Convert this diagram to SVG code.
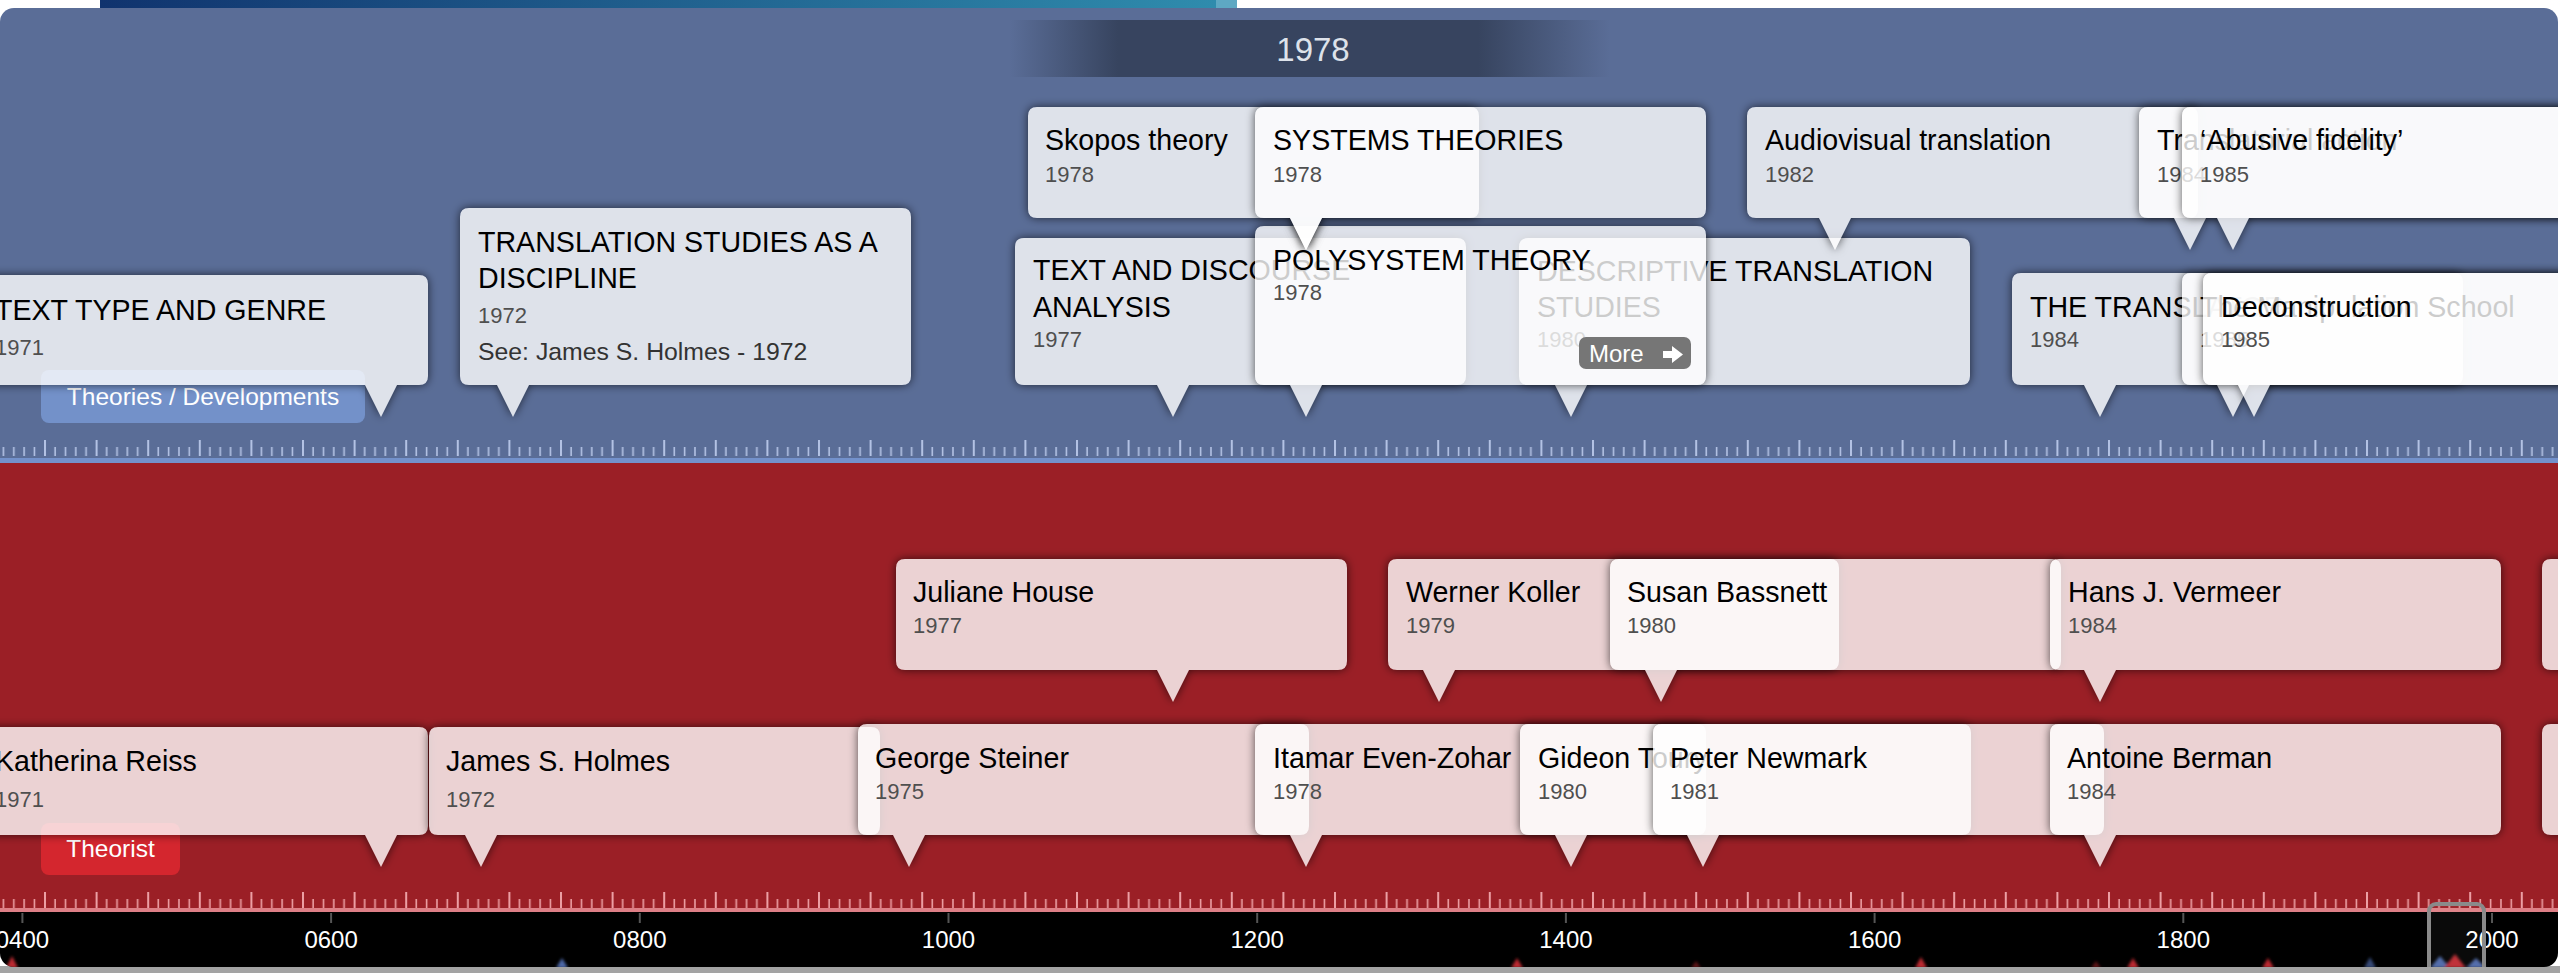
<svg xmlns="http://www.w3.org/2000/svg" width="2560" height="973" viewBox="0 0 2560 973">
<defs>
<style>
.sh{fill:#000;filter:url(#fsh)}
.cb{fill:#fff;fill-opacity:0.8}
.tt{font-family:"Liberation Sans",Arial,sans-serif;font-size:28.6px;fill:#000}
.yr{font-family:"Liberation Sans",Arial,sans-serif;font-size:22px;fill:#4f4f4f}
.sub{font-family:"Liberation Sans",Arial,sans-serif;font-size:24.8px;fill:#333}
.lbl{font-family:"Liberation Sans",Arial,sans-serif;font-size:24.5px;fill:#fff;text-anchor:middle}
.ax{font-family:"Liberation Sans",Arial,sans-serif;font-size:24px;fill:#fff;text-anchor:middle}
.axt{stroke:#555;stroke-width:2}
.mr{fill:#e0303a}
.mb{fill:#5c7cc8}
</style>
<filter id="fsh" x="-10%" y="-40%" width="120%" height="180%">
<feGaussianBlur in="SourceAlpha" stdDeviation="5" result="b"/>
<feComposite in="b" in2="SourceAlpha" operator="out" result="o"/>
<feFlood flood-color="#000" flood-opacity="0.65"/>
<feComposite in2="o" operator="in"/>
</filter>
<filter id="fbl" x="-50%" y="-50%" width="200%" height="200%">
<feGaussianBlur stdDeviation="1.6"/>
</filter>
<clipPath id="panel"><rect x="0" y="8" width="2558" height="959" rx="14"/></clipPath>
<linearGradient id="topbar" gradientUnits="userSpaceOnUse" x1="100" y1="0" x2="1216" y2="0">
<stop offset="0" stop-color="#10336e"/>
<stop offset="1" stop-color="#2f8cad"/>
</linearGradient>
<linearGradient id="hdr" gradientUnits="userSpaceOnUse" x1="1010" y1="0" x2="1610" y2="0">
<stop offset="0" stop-color="#37445f" stop-opacity="0"/>
<stop offset="0.18" stop-color="#37445f"/>
<stop offset="0.78" stop-color="#37445f"/>
<stop offset="1" stop-color="#37445f" stop-opacity="0"/>
</linearGradient>
<pattern id="tkB" patternUnits="userSpaceOnUse" x="44" y="440" width="51.6" height="16">
<rect x="0" y="0" width="2" height="16" fill="#b3c2e4"/>
<rect x="10.32" y="7" width="1.6" height="9" fill="#b3c2e4"/>
<rect x="20.64" y="7" width="1.6" height="9" fill="#b3c2e4"/>
<rect x="30.96" y="7" width="1.6" height="9" fill="#b3c2e4"/>
<rect x="41.28" y="7" width="1.6" height="9" fill="#b3c2e4"/>
</pattern>
<pattern id="tkR" patternUnits="userSpaceOnUse" x="44" y="892" width="51.6" height="16">
<rect x="0" y="0" width="2" height="16" fill="#ec9fa4"/>
<rect x="10.32" y="7" width="1.6" height="9" fill="#ec9fa4"/>
<rect x="20.64" y="7" width="1.6" height="9" fill="#ec9fa4"/>
<rect x="30.96" y="7" width="1.6" height="9" fill="#ec9fa4"/>
<rect x="41.28" y="7" width="1.6" height="9" fill="#ec9fa4"/>
</pattern>
<!-- card shapes -->
<path id="p-skopos" d="M1037,107 H1470 Q1479,107 1479,116 V209 Q1479,218 1470,218 H1322 L1306,250 L1290,218 H1037 Q1028,218 1028,209 V116 Q1028,107 1037,107 Z"/>
<path id="p-systems" d="M1264,107 H1697 Q1706,107 1706,116 V209 Q1706,218 1697,218 H1322 L1306,250 L1290,218 H1264 Q1255,218 1255,209 V116 Q1255,107 1264,107 Z"/>
<path id="p-audio" d="M1756,107 H2189 Q2198,107 2198,116 V209 Q2198,218 2189,218 H1851 L1835,250 L1819,218 H1756 Q1747,218 1747,209 V116 Q1747,107 1756,107 Z"/>
<path id="p-tra" d="M2148,107 H2581 Q2590,107 2590,116 V209 Q2590,218 2581,218 H2206 L2190,250 L2174,218 H2148 Q2139,218 2139,209 V116 Q2139,107 2148,107 Z"/>
<path id="p-abusive" d="M2191,107 H2624 Q2633,107 2633,116 V209 Q2633,218 2624,218 H2249 L2233,250 L2217,218 H2191 Q2182,218 2182,209 V116 Q2182,107 2191,107 Z"/>
<path id="p-texttype" d="M-14,275 H419 Q428,275 428,284 V376 Q428,385 419,385 H397 L381,417 L365,385 H-14 Q-23,385 -23,376 V284 Q-23,275 -14,275 Z"/>
<path id="p-tsdisc" d="M469,208 H902 Q911,208 911,217 V376 Q911,385 902,385 H529 L513,417 L497,385 H469 Q460,385 460,376 V217 Q460,208 469,208 Z"/>
<path id="p-tda" d="M1024,238 H1457 Q1466,238 1466,247 V376 Q1466,385 1457,385 H1189 L1173,417 L1157,385 H1024 Q1015,385 1015,376 V247 Q1015,238 1024,238 Z"/>
<path id="p-dts" d="M1528,238 H1961 Q1970,238 1970,247 V376 Q1970,385 1961,385 H1587 L1571,417 L1555,385 H1528 Q1519,385 1519,376 V247 Q1519,238 1528,238 Z"/>
<path id="p-poly" d="M1264,226 H1697 Q1706,226 1706,235 V376 Q1706,385 1697,385 H1322 L1306,417 L1290,385 H1264 Q1255,385 1255,376 V235 Q1255,226 1264,226 Z"/>
<path id="p-thetrans" d="M2021,273 H2454 Q2463,273 2463,282 V376 Q2463,385 2454,385 H2116 L2100,417 L2084,385 H2021 Q2012,385 2012,376 V282 Q2012,273 2021,273 Z"/>
<path id="p-manip" d="M2191,273 H2624 Q2633,273 2633,282 V376 Q2633,385 2624,385 H2249 L2233,417 L2217,385 H2191 Q2182,385 2182,376 V282 Q2182,273 2191,273 Z"/>
<path id="p-decon" d="M2212,273 H2645 Q2654,273 2654,282 V376 Q2654,385 2645,385 H2270 L2254,417 L2238,385 H2212 Q2203,385 2203,376 V282 Q2203,273 2212,273 Z"/>
<path id="p-house" d="M905,559 H1338 Q1347,559 1347,568 V661 Q1347,670 1338,670 H1189 L1173,702 L1157,670 H905 Q896,670 896,661 V568 Q896,559 905,559 Z"/>
<path id="p-koller" d="M1397,559 H1830 Q1839,559 1839,568 V661 Q1839,670 1830,670 H1455 L1439,702 L1423,670 H1397 Q1388,670 1388,661 V568 Q1388,559 1397,559 Z"/>
<path id="p-bassnett" d="M1619,559 H2052 Q2061,559 2061,568 V661 Q2061,670 2052,670 H1677 L1661,702 L1645,670 H1619 Q1610,670 1610,661 V568 Q1610,559 1619,559 Z"/>
<path id="p-vermeer" d="M2059,559 H2492 Q2501,559 2501,568 V661 Q2501,670 2492,670 H2116 L2100,702 L2084,670 H2059 Q2050,670 2050,661 V568 Q2050,559 2059,559 Z"/>
<path id="p-next1" d="M2551,559 H2984 Q2993,559 2993,568 V661 Q2993,670 2984,670 H2551 Q2542,670 2542,661 V568 Q2542,559 2551,559 Z"/>
<path id="p-reiss" d="M-14,727 H419 Q428,727 428,736 V826 Q428,835 419,835 H397 L381,867 L365,835 H-14 Q-23,835 -23,826 V736 Q-23,727 -14,727 Z"/>
<path id="p-holmes" d="M438,727 H871 Q880,727 880,736 V826 Q880,835 871,835 H497 L481,867 L465,835 H438 Q429,835 429,826 V736 Q429,727 438,727 Z"/>
<path id="p-steiner" d="M867,724 H1300 Q1309,724 1309,733 V826 Q1309,835 1300,835 H925 L909,867 L893,835 H867 Q858,835 858,826 V733 Q858,724 867,724 Z"/>
<path id="p-evenzohar" d="M1264,724 H1697 Q1706,724 1706,733 V826 Q1706,835 1697,835 H1322 L1306,867 L1290,835 H1264 Q1255,835 1255,826 V733 Q1255,724 1264,724 Z"/>
<path id="p-toury" d="M1529,724 H1962 Q1971,724 1971,733 V826 Q1971,835 1962,835 H1587 L1571,867 L1555,835 H1529 Q1520,835 1520,826 V733 Q1520,724 1529,724 Z"/>
<path id="p-newmark" d="M1662,724 H2095 Q2104,724 2104,733 V826 Q2104,835 2095,835 H1719 L1703,867 L1687,835 H1662 Q1653,835 1653,826 V733 Q1653,724 1662,724 Z"/>
<path id="p-berman" d="M2059,724 H2492 Q2501,724 2501,733 V826 Q2501,835 2492,835 H2116 L2100,867 L2084,835 H2059 Q2050,835 2050,826 V733 Q2050,724 2059,724 Z"/>
<path id="p-next2" d="M2551,724 H2984 Q2993,724 2993,733 V826 Q2993,835 2984,835 H2551 Q2542,835 2542,826 V733 Q2542,724 2551,724 Z"/>
</defs>

<rect x="0" y="0" width="2560" height="973" fill="#ffffff"/>
<rect x="0" y="966" width="2560" height="7" fill="#a3a3a3"/>
<rect x="100" y="0" width="1116" height="8" fill="url(#topbar)"/>
<rect x="1216" y="0" width="21" height="8" fill="#5ea8c3"/>

<g clip-path="url(#panel)">
<!-- bands -->
<g id="bands">
<rect x="0" y="8" width="2560" height="451" fill="#5a6d97"/>
<rect x="1010" y="20" width="600" height="57" fill="url(#hdr)"/>
<text x="1313" y="61" text-anchor="middle" font-family="'Liberation Sans',Arial,sans-serif" font-size="33" fill="#dde2ea">1978</text>
<rect x="0" y="440" width="2560" height="16" fill="url(#tkB)"/>
<rect x="0" y="458" width="2560" height="5" fill="#7391cb"/>
<rect x="0" y="463" width="2560" height="446" fill="#9b1f26"/>
<rect x="0" y="892" width="2560" height="16" fill="url(#tkR)"/>
<rect x="0" y="908" width="2560" height="4" fill="#de7f86"/>
<rect x="0" y="912" width="2560" height="56" fill="#000"/>
</g>

<g id="group-labels">
<rect x="41" y="370" width="324" height="53" rx="8" fill="#7391c9"/>
<text class="lbl" x="203" y="405">Theories / Developments</text>
<rect x="41" y="823" width="139" height="52" rx="8" fill="#d4262e"/>
<text class="lbl" x="110.5" y="857">Theorist</text>
</g>

<!-- Theories / Developments, lower row -->
<g id="node-text-type-genre">
<use href="#p-texttype" class="sh"/><use href="#p-texttype" class="cb"/>
<text class="tt" x="-5" y="320">TEXT TYPE AND GENRE</text>
<text class="yr" x="-5" y="355">1971</text>
</g>
<g id="node-ts-discipline">
<use href="#p-tsdisc" class="sh"/><use href="#p-tsdisc" class="cb"/>
<text class="tt" x="478" y="252">TRANSLATION STUDIES AS A</text>
<text class="tt" x="478" y="288">DISCIPLINE</text>
<text class="yr" x="478" y="323">1972</text>
<text class="sub" x="478" y="360">See: James S. Holmes - 1972</text>
</g>
<g id="node-text-discourse">
<use href="#p-tda" class="sh"/><use href="#p-tda" class="cb"/>
<text class="tt" x="1033" y="280">TEXT AND DISCOURSE</text>
<text class="tt" x="1033" y="317">ANALYSIS</text>
<text class="yr" x="1033" y="347">1977</text>
</g>
<g id="node-dts">
<use href="#p-dts" class="sh"/><use href="#p-dts" class="cb"/>
<text class="tt" x="1537" y="281">DESCRIPTIVE TRANSLATION</text>
<text class="tt" x="1537" y="317">STUDIES</text>
<text class="yr" x="1537" y="347">1980</text>
</g>
<g id="node-polysystem">
<use href="#p-poly" class="sh"/><use href="#p-poly" class="cb"/>
<text class="tt" x="1273" y="270">POLYSYSTEM THEORY</text>
<text class="yr" x="1273" y="300">1978</text>
<rect x="1579" y="337" width="112" height="32" rx="7" fill="#767676"/>
<text x="1589" y="362" font-family="'Liberation Sans',Arial,sans-serif" font-size="24" fill="#fff">More</text>
<polygon points="1663,351 1672,351 1672,346 1683,354.5 1672,363 1672,358 1663,358" fill="#fff"/>
</g>
<g id="node-the-trans">
<use href="#p-thetrans" class="sh"/><use href="#p-thetrans" class="cb"/>
<text class="tt" x="2030" y="317">THE TRANSLATOR</text>
<text class="yr" x="2030" y="347">1984</text>
</g>
<g id="node-manipulation">
<use href="#p-manip" class="sh"/><use href="#p-manip" class="cb"/>
<text class="tt" x="2200" y="317">The Manipulation School</text>
<text class="yr" x="2200" y="347">1985</text>
</g>
<g id="node-deconstruction">
<use href="#p-decon" class="sh"/><use href="#p-decon" class="cb"/>
<text class="tt" x="2221" y="317">Deconstruction</text>
<text class="yr" x="2221" y="347">1985</text>
</g>

<!-- Theories / Developments, upper row -->
<g id="node-skopos">
<use href="#p-skopos" class="sh"/><use href="#p-skopos" class="cb"/>
<text class="tt" x="1045" y="150">Skopos theory</text>
<text class="yr" x="1045" y="182">1978</text>
</g>
<g id="node-systems">
<use href="#p-systems" class="sh"/><use href="#p-systems" class="cb"/>
<text class="tt" x="1273" y="150">SYSTEMS THEORIES</text>
<text class="yr" x="1273" y="182">1978</text>
</g>
<g id="node-audiovisual">
<use href="#p-audio" class="sh"/><use href="#p-audio" class="cb"/>
<text class="tt" x="1765" y="150">Audiovisual translation</text>
<text class="yr" x="1765" y="182">1982</text>
</g>
<g id="node-translatorial">
<use href="#p-tra" class="sh"/><use href="#p-tra" class="cb"/>
<text class="tt" x="2157" y="150">Translatorial action</text>
<text class="yr" x="2157" y="182">1984</text>
</g>
<g id="node-abusive">
<use href="#p-abusive" class="sh"/><use href="#p-abusive" class="cb"/>
<text class="tt" x="2200" y="150">‘Abusive fidelity’</text>
<text class="yr" x="2200" y="182">1985</text>
</g>

<!-- Theorist, upper row -->
<g id="node-house">
<use href="#p-house" class="sh"/><use href="#p-house" class="cb"/>
<text class="tt" x="913" y="602">Juliane House</text>
<text class="yr" x="913" y="633">1977</text>
</g>
<g id="node-koller">
<use href="#p-koller" class="sh"/><use href="#p-koller" class="cb"/>
<text class="tt" x="1406" y="602">Werner Koller</text>
<text class="yr" x="1406" y="633">1979</text>
</g>
<g id="node-bassnett">
<use href="#p-bassnett" class="sh"/><use href="#p-bassnett" class="cb"/>
<text class="tt" x="1627" y="602">Susan Bassnett</text>
<text class="yr" x="1627" y="633">1980</text>
</g>
<g id="node-vermeer">
<use href="#p-vermeer" class="sh"/><use href="#p-vermeer" class="cb"/>
<text class="tt" x="2068" y="602">Hans J. Vermeer</text>
<text class="yr" x="2068" y="633">1984</text>
</g>
<g id="node-next-upper">
<use href="#p-next1" class="sh"/><use href="#p-next1" class="cb"/>
</g>

<!-- Theorist, lower row -->
<g id="node-reiss">
<use href="#p-reiss" class="sh"/><use href="#p-reiss" class="cb"/>
<text class="tt" x="-5" y="771">Katherina Reiss</text>
<text class="yr" x="-5" y="807">1971</text>
</g>
<g id="node-holmes">
<use href="#p-holmes" class="sh"/><use href="#p-holmes" class="cb"/>
<text class="tt" x="446" y="771">James S. Holmes</text>
<text class="yr" x="446" y="807">1972</text>
</g>
<g id="node-steiner">
<use href="#p-steiner" class="sh"/><use href="#p-steiner" class="cb"/>
<text class="tt" x="875" y="768">George Steiner</text>
<text class="yr" x="875" y="799">1975</text>
</g>
<g id="node-even-zohar">
<use href="#p-evenzohar" class="sh"/><use href="#p-evenzohar" class="cb"/>
<text class="tt" x="1273" y="768">Itamar Even-Zohar</text>
<text class="yr" x="1273" y="799">1978</text>
</g>
<g id="node-toury">
<use href="#p-toury" class="sh"/><use href="#p-toury" class="cb"/>
<text class="tt" x="1538" y="768">Gideon Toury</text>
<text class="yr" x="1538" y="799">1980</text>
</g>
<g id="node-newmark">
<use href="#p-newmark" class="sh"/><use href="#p-newmark" class="cb"/>
<text class="tt" x="1670" y="768">Peter Newmark</text>
<text class="yr" x="1670" y="799">1981</text>
</g>
<g id="node-berman">
<use href="#p-berman" class="sh"/><use href="#p-berman" class="cb"/>
<text class="tt" x="2067" y="768">Antoine Berman</text>
<text class="yr" x="2067" y="799">1984</text>
</g>
<g id="node-next-lower">
<use href="#p-next2" class="sh"/><use href="#p-next2" class="cb"/>
</g>

<!-- bottom axis -->
<g id="axis">
<line class="axt" x1="22.4" y1="913" x2="22.4" y2="923"/>
<line class="axt" x1="331.1" y1="913" x2="331.1" y2="923"/>
<line class="axt" x1="639.8" y1="913" x2="639.8" y2="923"/>
<line class="axt" x1="948.5" y1="913" x2="948.5" y2="923"/>
<line class="axt" x1="1257.2" y1="913" x2="1257.2" y2="923"/>
<line class="axt" x1="1565.9" y1="913" x2="1565.9" y2="923"/>
<line class="axt" x1="1874.6" y1="913" x2="1874.6" y2="923"/>
<line class="axt" x1="2183.3" y1="913" x2="2183.3" y2="923"/>
<line class="axt" x1="2492" y1="913" x2="2492" y2="923"/>
<text class="ax" x="22.4" y="948">0400</text>
<text class="ax" x="331.1" y="948">0600</text>
<text class="ax" x="639.8" y="948">0800</text>
<text class="ax" x="948.5" y="948">1000</text>
<text class="ax" x="1257.2" y="948">1200</text>
<text class="ax" x="1565.9" y="948">1400</text>
<text class="ax" x="1874.6" y="948">1600</text>
<text class="ax" x="2183.3" y="948">1800</text>
<text class="ax" x="2492" y="948">2000</text>
</g>
<g id="minimap" filter="url(#fbl)" opacity="0.85">
<polygon class="mr" points="6,968 12,956 18,968"/>
<polygon class="mb" points="556,968 562,958 568,968"/>
<polygon class="mr" points="1511,968 1517,958 1523,968"/>
<polygon class="mr" points="1691,968 1696,961 1701,968" opacity="0.5"/>
<polygon class="mr" points="1915,968 1921,957 1927,968"/>
<polygon class="mr" points="2091,968 2096,961 2101,968" opacity="0.5"/>
<polygon class="mr" points="2127,968 2133,958 2139,968"/>
<polygon class="mr" points="2262,968 2268,958 2274,968"/>
<polygon class="mb" points="2364,968 2370,957 2376,968" opacity="0.7"/>
<polygon class="mb" points="2430,968 2440,956 2450,968"/>
<polygon class="mr" points="2444,968 2455,954 2466,968"/>
<polygon class="mb" points="2466,968 2476,958 2486,968"/>
</g>
<rect id="scrubber" x="2429" y="904" width="55" height="72" rx="7" fill="#ffffff" fill-opacity="0.04" stroke="#8a8a8a" stroke-width="4"/>
</g>
</svg>
